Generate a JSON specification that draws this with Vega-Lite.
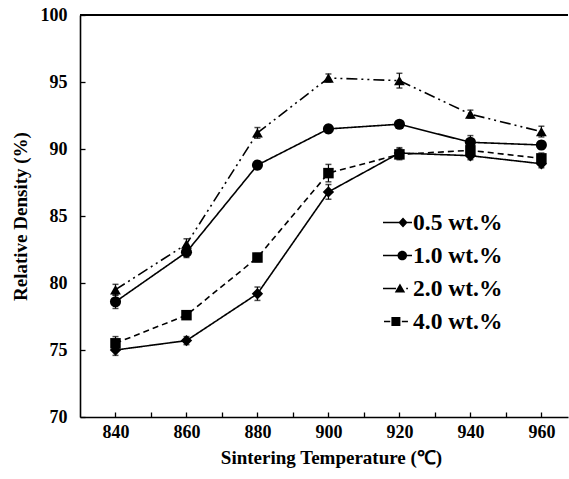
{
  "$schema": "https://vega.github.io/schema/vega-lite/v6.json",
  "width": 488,
  "height": 402,
  "autosize": "none",
  "padding": {"left": 80, "top": 15, "right": 1, "bottom": 62},
  "background": "white",
  "config": {
    "view": {"stroke": null},
    "font": "Liberation Serif",
    "axis": {
      "grid": false,
      "domainColor": "black",
      "domainWidth": 1.6,
      "tickColor": "black",
      "tickWidth": 1.3,
      "tickSize": -5,
      "labelColor": "black",
      "labelFont": "Liberation Serif",
      "labelFontWeight": "bold",
      "labelFontSize": 18,
      "titleColor": "black",
      "titleFont": "Liberation Serif",
      "titleFontWeight": "bold",
      "titleFontSize": 19
    }
  },
  "data": {
    "values": [
      {"T": 840, "s": "0.5 wt.%", "v": 75.0, "e": 0.4},
      {"T": 860, "s": "0.5 wt.%", "v": 75.7, "e": 0.3},
      {"T": 880, "s": "0.5 wt.%", "v": 79.2, "e": 0.5},
      {"T": 900, "s": "0.5 wt.%", "v": 86.8, "e": 0.55},
      {"T": 920, "s": "0.5 wt.%", "v": 89.7, "e": 0.4},
      {"T": 940, "s": "0.5 wt.%", "v": 89.5, "e": 0.3},
      {"T": 960, "s": "0.5 wt.%", "v": 88.9, "e": 0.3},
      {"T": 840, "s": "1.0 wt.%", "v": 78.6, "e": 0.5},
      {"T": 860, "s": "1.0 wt.%", "v": 82.3, "e": 0.4},
      {"T": 880, "s": "1.0 wt.%", "v": 88.8, "e": 0.3},
      {"T": 900, "s": "1.0 wt.%", "v": 91.5, "e": 0.3},
      {"T": 920, "s": "1.0 wt.%", "v": 91.85, "e": 0.25},
      {"T": 940, "s": "1.0 wt.%", "v": 90.5, "e": 0.5},
      {"T": 960, "s": "1.0 wt.%", "v": 90.3, "e": 0.3},
      {"T": 840, "s": "2.0 wt.%", "v": 79.5, "e": 0.4},
      {"T": 860, "s": "2.0 wt.%", "v": 82.9, "e": 0.4},
      {"T": 880, "s": "2.0 wt.%", "v": 91.2, "e": 0.4},
      {"T": 900, "s": "2.0 wt.%", "v": 95.3, "e": 0.3},
      {"T": 920, "s": "2.0 wt.%", "v": 95.1, "e": 0.55},
      {"T": 940, "s": "2.0 wt.%", "v": 92.6, "e": 0.3},
      {"T": 960, "s": "2.0 wt.%", "v": 91.3, "e": 0.4},
      {"T": 840, "s": "4.0 wt.%", "v": 75.5, "e": 0.5},
      {"T": 860, "s": "4.0 wt.%", "v": 77.6, "e": 0.3},
      {"T": 880, "s": "4.0 wt.%", "v": 81.9, "e": 0.3},
      {"T": 900, "s": "4.0 wt.%", "v": 88.2, "e": 0.65},
      {"T": 920, "s": "4.0 wt.%", "v": 89.6, "e": 0.4},
      {"T": 940, "s": "4.0 wt.%", "v": 89.9, "e": 0.4},
      {"T": 960, "s": "4.0 wt.%", "v": 89.3, "e": 0.4}
    ]
  },
  "layer": [
    {
      "mark": {"type": "rule", "color": "black", "strokeWidth": 1.6},
      "encoding": {"y": {"datum": 100, "type": "quantitative", "title": "Relative Density (%)"}}
    },
    {
      "mark": {"type": "line", "color": "black", "strokeWidth": 1.6},
      "encoding": {
        "x": {
          "field": "T", "type": "quantitative",
          "title": "Sintering Temperature (℃)",
          "scale": {"domain": [830, 967.5], "nice": false, "zero": false},
          "axis": {
            "values": [840, 850, 860, 870, 880, 890, 900, 910, 920, 930, 940, 950, 960],
            "labelExpr": "datum.value % 20 === 0 ? datum.label : ''",
            "labelPadding": 11,
            "titleX": 251, "titleY": 46, "titleAlign": "center", "titleBaseline": "alphabetic"
          }
        },
        "y": {
          "field": "v", "type": "quantitative",
          "title": "Relative Density (%)",
          "scale": {"domain": [70, 100], "nice": false, "zero": false},
          "axis": {
            "values": [70, 72.5, 75, 77.5, 80, 82.5, 85, 87.5, 90, 92.5, 95, 97.5, 100],
            "labelExpr": "datum.value % 5 === 0 ? datum.label : ''",
            "labelPadding": 18,
            "titleX": -53.5, "titleY": 201, "titleAlign": "center", "titleBaseline": "alphabetic", "titleAngle": -90
          }
        },
        "detail": {"field": "s", "type": "nominal"},
        "strokeDash": {
          "field": "s", "type": "nominal",
          "scale": {"domain": ["0.5 wt.%", "1.0 wt.%", "2.0 wt.%", "4.0 wt.%"], "range": [[1, 0], [1, 0], [11, 4, 2, 4, 2, 4], [6, 4]]},
          "legend": null
        }
      }
    },
    {
      "mark": {"type": "errorbar", "color": "black", "thickness": 1.2, "ticks": {"size": 6, "thickness": 1.5}},
      "encoding": {
        "x": {"field": "T", "type": "quantitative", "title": "Sintering Temperature (℃)"},
        "y": {"field": "v", "type": "quantitative", "title": "Relative Density (%)"},
        "yError": {"field": "e"}
      }
    },
    {
      "mark": {"type": "point", "filled": true, "color": "black", "opacity": 1},
      "encoding": {
        "x": {"field": "T", "type": "quantitative", "title": "Sintering Temperature (℃)"},
        "y": {"field": "v", "type": "quantitative", "title": "Relative Density (%)"},
        "shape": {
          "field": "s", "type": "nominal",
          "scale": {"domain": ["0.5 wt.%", "1.0 wt.%", "2.0 wt.%", "4.0 wt.%"], "range": ["diamond", "circle", "triangle-up", "square"]},
          "legend": null
        },
        "size": {
          "field": "s", "type": "nominal",
          "scale": {"domain": ["0.5 wt.%", "1.0 wt.%", "2.0 wt.%", "4.0 wt.%"], "range": [130, 110, 110, 90]},
          "legend": null
        }
      }
    },
    {
      "data": {"values": []},
      "mark": {"type": "point", "filled": true, "color": "black", "opacity": 1, "size": 841},
      "encoding": {
        "shape": {
          "field": "lg", "type": "nominal",
          "scale": {
            "domain": ["0.5 wt.%", "1.0 wt.%", "2.0 wt.%", "4.0 wt.%"],
            "range": [
              "M-1,-0.055L1,-0.055L1,0.055L-1,0.055Z M0.06,0L0.38,-0.34L0.7,0L0.38,0.34Z",
              "M-1,-0.055L1,-0.055L1,0.055L-1,0.055Z M0,0A0.33,0.33 0 1,1 0.66,0A0.33,0.33 0 1,1 0,0Z",
              "M-1,-0.055L-0.1,-0.055L-0.1,0.055L-1,0.055Z M0.17,-0.34L0.53,0.28L-0.19,0.28Z M0.6,-0.06L0.72,-0.06L0.72,0.06L0.6,0.06Z",
              "M-0.93,-0.055L-0.5,-0.055L-0.5,0.055L-0.93,0.055Z M-0.42,-0.31L0.2,-0.31L0.2,0.31L-0.42,0.31Z M0.3,-0.055L0.72,-0.055L0.72,0.055L0.3,0.055Z"
            ]
          },
          "legend": {
            "title": null,
            "orient": "none",
            "legendX": 303,
            "legendY": 193,
            "symbolSize": 841,
            "symbolStrokeWidth": 0,
            "symbolFillColor": "black",
            "rowPadding": 7,
            "labelOffset": 1,
            "labelFont": "Liberation Serif",
            "labelFontWeight": "bold",
            "labelFontSize": 23.5,
            "labelColor": "black",
            "labelLimit": 200
          }
        }
      }
    }
  ],
  "resolve": {"scale": {"shape": "independent", "size": "independent"}, "legend": {"shape": "independent"}}
}
